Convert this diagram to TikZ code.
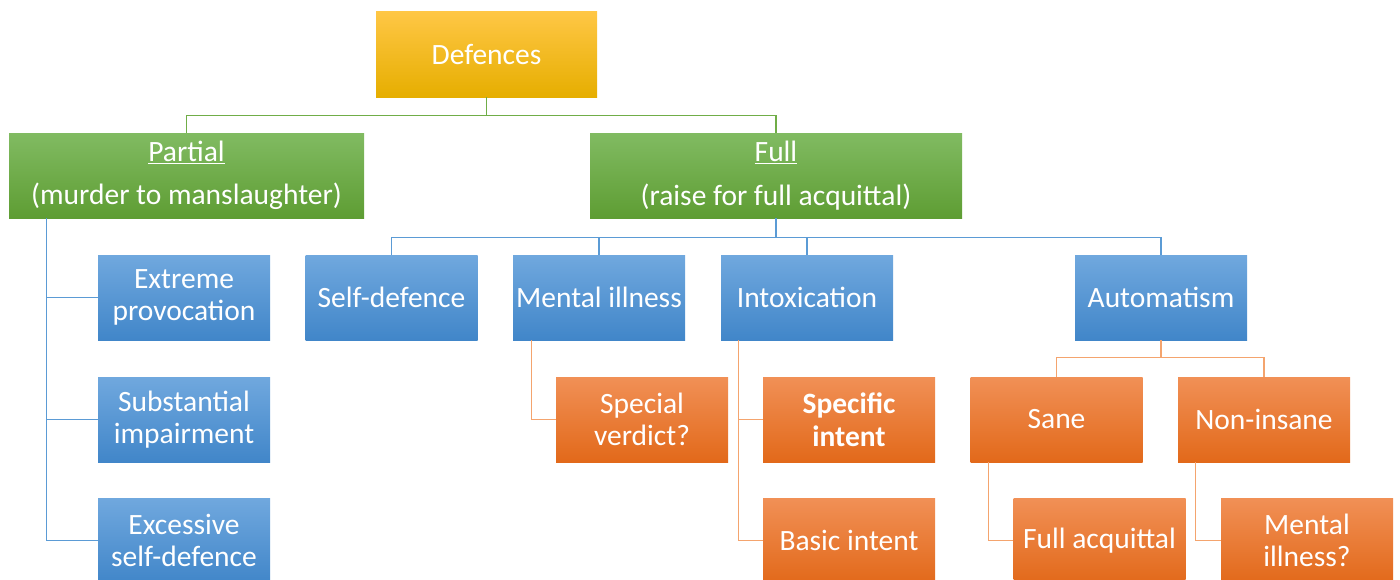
\documentclass[tikz,border=0pt]{standalone}
\usepackage{fontspec}
\setmainfont{Carlito}
\usetikzlibrary{calc}
\definecolor{goldT}{HTML}{FFC746}\definecolor{goldM}{HTML}{FFC000}\definecolor{goldB}{HTML}{E6AE00}
\definecolor{grnT}{HTML}{81BB62}\definecolor{grnM}{HTML}{6FAC46}\definecolor{grnB}{HTML}{5E9D33}
\definecolor{bluT}{HTML}{70A8DE}\definecolor{bluM}{HTML}{5B9BD5}\definecolor{bluB}{HTML}{4186C9}
\definecolor{orgT}{HTML}{F19056}\definecolor{orgM}{HTML}{EE7B30}\definecolor{orgB}{HTML}{E2691A}
\definecolor{gline}{HTML}{70AD47}\definecolor{bline}{HTML}{5B9BD5}\definecolor{oline}{HTML}{F4A46E}
\tikzset{
  box/.style={rectangle, inner sep=0pt, align=center, text=white,
    font=\fontsize{29.5}{32.5}\selectfont, minimum height=85pt},
  goldbox/.style={box, top color=goldT, middle color=goldM, bottom color=goldB},
  grnbox/.style={box, top color=grnT, middle color=grnM, bottom color=grnB},
  blubox/.style={box, top color=bluT, middle color=bluM, bottom color=bluB, minimum width=172pt},
  orgbox/.style={box, top color=orgT, middle color=orgM, bottom color=orgB, minimum width=172pt},
  gcon/.style={draw=gline, line width=1.2pt},
  bcon/.style={draw=bline, line width=1.2pt},
  ocon/.style={draw=oline, line width=1.2pt},
}
\begin{document}
\begin{tikzpicture}[x=1pt,y=-1pt]
\useasboundingbox (0,0) rectangle (1400,579);
\node[goldbox, minimum width=221pt, minimum height=86pt] (def) at (486.5,54) {Defences};
\node[grnbox, minimum width=355pt] (partial) at (186.5,175.5) {\underline{Partial}\\[11pt](murder to manslaughter)};
\node[grnbox, minimum width=372pt] (full) at (776,175.5) {\underline{Full}\\[11pt](raise for full acquittal)};
\node[blubox] (extreme) at (184,297.5) {Extreme\\provocation};
\node[blubox] (subst) at (184,419.5) {Substantial\\impairment};
\node[blubox] (excess) at (184,540.5) {Excessive\\self-defence};
\node[blubox] (self) at (391.5,297.5) {Self-defence};
\node[blubox] (mental) at (599,297.5) {Mental illness};
\node[blubox] (intox) at (807,297.5) {Intoxication};
\node[blubox] (auto) at (1161,297.5) {Automatism};
\node[orgbox] (special) at (642,419.5) {Special\\verdict?};
\node[orgbox] (specific) at (849,419.5) {\textbf{Specific}\\\textbf{intent}};
\node[orgbox] (basic) at (849,540.5) {Basic intent};
\node[orgbox] (sane) at (1056.5,419.5) {Sane};
\node[orgbox] (nonins) at (1264,419.5) {Non-insane};
\node[orgbox] (fullacq) at (1099.5,540.5) {Full acquittal};
\node[orgbox] (mill) at (1307,540.5) {Mental\\illness?};
% green connectors
\draw[gcon] (def.south) -- ++(0,18) -| (partial.north);
\draw[gcon] (def.south) -- ++(0,18) -| (full.north);
% partial children
\draw[bcon] ($(partial.south west)+(38,0)$) |- (extreme.west);
\draw[bcon] ($(partial.south west)+(38,0)$) |- (subst.west);
\draw[bcon] ($(partial.south west)+(38,0)$) |- (excess.west);
% full children
\draw[bcon] (full.south) -- ++(0,19) -| (self.north);
\draw[bcon] (full.south) -- ++(0,19) -| (mental.north);
\draw[bcon] (full.south) -- ++(0,19) -| (intox.north);
\draw[bcon] (full.south) -- ++(0,19) -| (auto.north);
% orange
\draw[ocon] ($(mental.south west)+(19,0)$) |- (special.west);
\draw[ocon] ($(intox.south west)+(18,0)$) |- (specific.west);
\draw[ocon] ($(intox.south west)+(18,0)$) |- (basic.west);
\draw[ocon] (auto.south) -- ++(0,17) -| (sane.north);
\draw[ocon] (auto.south) -- ++(0,17) -| (nonins.north);
\draw[ocon] ($(sane.south west)+(18,0)$) |- (fullacq.west);
\draw[ocon] ($(nonins.south west)+(18,0)$) |- (mill.west);
\end{tikzpicture}
\end{document}
